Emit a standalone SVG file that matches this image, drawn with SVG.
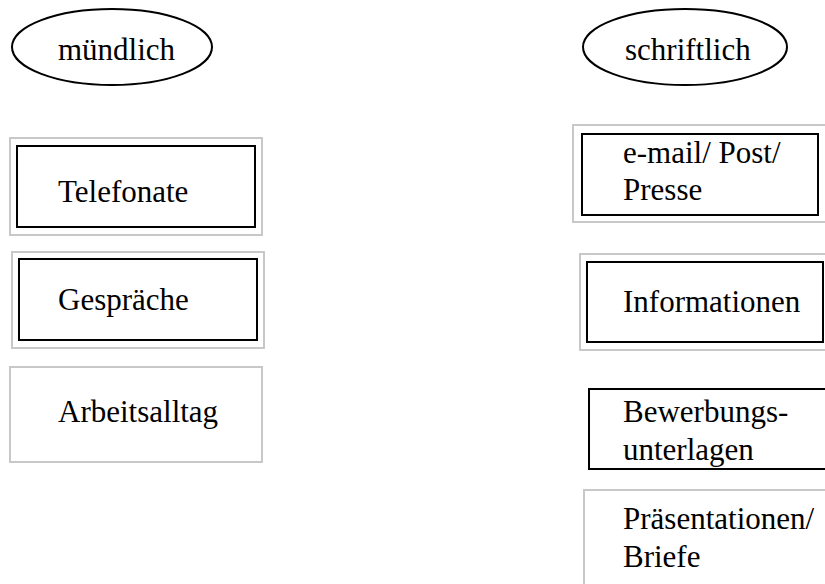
<svg xmlns="http://www.w3.org/2000/svg" width="825" height="584" viewBox="0 0 825 584">
<style>
text{font-family:"Liberation Serif","Times New Roman",serif;font-size:31px;fill:#000}
.ell{fill:#fff;stroke:#000;stroke-width:2}
.outer{fill:#fff;stroke:#c8c8c8;stroke-width:2}
.inner{fill:#fff;stroke:#000;stroke-width:2}
</style>
<rect width="825" height="584" fill="#fff"/>
<g id="connectors"></g>
<g id="muendlich"><ellipse class="ell" cx="112" cy="47" rx="100" ry="38"/><text x="58" y="60">mündlich</text></g>
<g id="schriftlich"><ellipse class="ell" cx="685" cy="47" rx="102" ry="38"/><text x="625" y="60">schriftlich</text></g>
<g id="telefonate"><rect class="outer" x="10" y="138" width="252" height="97"/><rect class="inner" x="17" y="146" width="238" height="81"/><text x="58" y="202">Telefonate</text></g>
<g id="gespraeche"><rect class="outer" x="12" y="252" width="252" height="96"/><rect class="inner" x="19" y="259" width="238" height="81"/><text x="58" y="310">Gespräche</text></g>
<g id="arbeitsalltag"><rect class="outer" x="10" y="367" width="252" height="95"/><text x="58" y="422">Arbeitsalltag</text></g>
<g id="email"><rect class="outer" x="573" y="125" width="262" height="97"/><rect class="inner" x="582" y="134" width="236" height="81"/><text x="623" y="163">e-mail/ Post/</text><text x="623" y="200">Presse</text></g>
<g id="informationen"><rect class="outer" x="580" y="254" width="262" height="96"/><rect class="inner" x="587" y="262" width="236" height="80"/><text x="623" y="312">Informationen</text></g>
<g id="bewerbung"><rect class="inner" x="589" y="389" width="250" height="80"/><text x="623" y="422">Bewerbungs-</text><text x="623" y="460">unterlagen</text></g>
<g id="praesentation"><rect class="outer" x="584" y="490" width="260" height="110"/><text x="623" y="529">Präsentationen/</text><text x="623" y="567">Briefe</text></g>
</svg>
